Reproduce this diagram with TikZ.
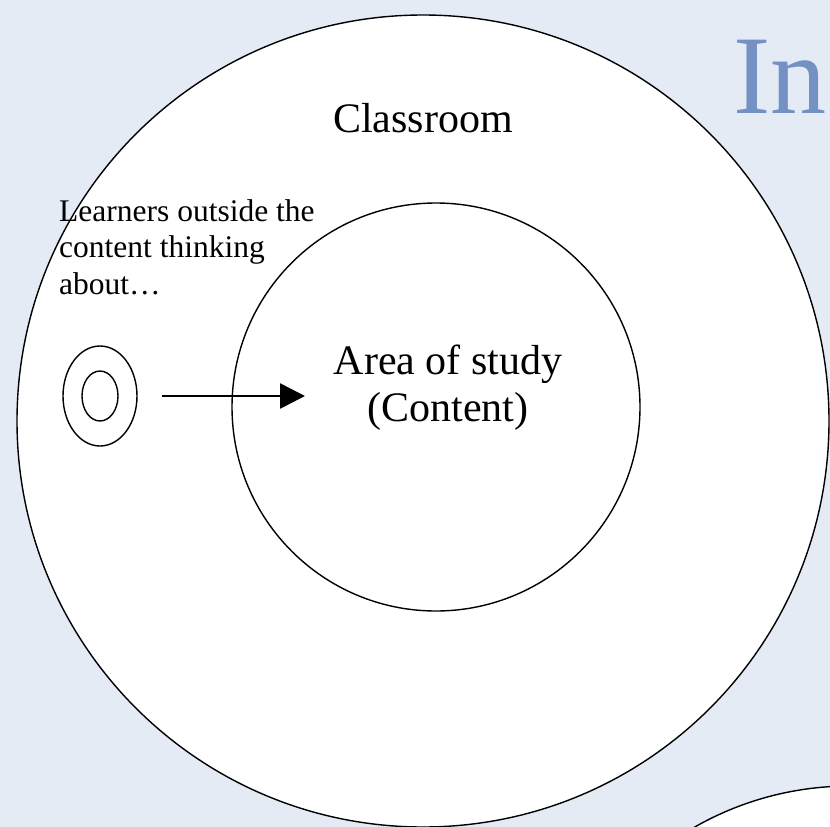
\documentclass[tikz,border=0pt]{standalone}
\usepackage{fontspec}
\setmainfont{Liberation Serif}
\usetikzlibrary{positioning,shapes.geometric,arrows.meta}
\definecolor{paper}{RGB}{228,235,245}
\definecolor{titleblue}{RGB}{115,145,195}
\tikzset{
    ring/.style={circle, draw, line width=1.4pt, fill=white, inner sep=0pt},
    eye/.style={ellipse, draw, line width=1.4pt, inner sep=0pt},
    pointer/.style={line width=2.6pt, -{Triangle[length=25pt,width=25pt]}}
}

\begin{document}
\begin{tikzpicture}[x=1pt, y=-1pt]
            \useasboundingbox (0,0) rectangle (830,827);
            \clip (0,0) rectangle (830,827);
            \fill[paper] (0,0) rectangle (830,827);

            % heading of the slide, cut by the page edge
            \node[anchor=base west, inner sep=0pt, text=titleblue,
                font=\fontsize{112}{112}\selectfont] (title) at (733,113) {In};

            % next picture peeking in at the bottom
            \node[ring, minimum size=628pt] (next) at (850,1100) {};

            % classroom with the content inside it
            \node[ring, minimum size=812pt] (classroom) at (423,421) {};
            \node[font=\fontsize{42}{48}\selectfont] (classlabel) at (423,118) {Classroom};
            \node[ring, minimum size=408pt] (content) at (436,407) {};
            \node[align=center, font=\fontsize{42}{47}\selectfont] (contentlabel) at (448,388)
                {Area of study\\(Content)};

            % learner looking in from outside
            \node[eye, minimum width=74pt, minimum height=100pt] (learner) at (100,396) {};
            \node[eye, minimum width=36pt, minimum height=50pt] (pupil) at (learner) {};
            \node[anchor=north west, inner sep=0pt, align=left,
                font=\fontsize{31.5}{36.5}\selectfont] (learnerlabel) at (59,199)
                {Learners outside the\\content thinking\\about\ldots};
            \coordinate (aim) at (305,396);
            \draw[pointer] ([xshift=24pt]learner.east) -- (aim);
        \end{tikzpicture}
\end{document}
